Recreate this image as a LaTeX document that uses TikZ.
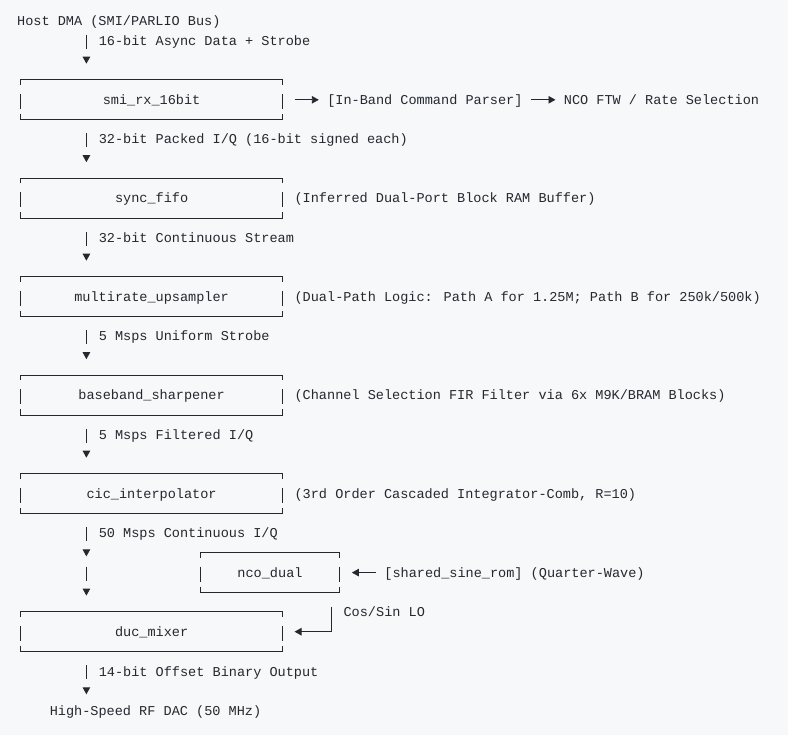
\documentclass[tikz,border=0pt]{standalone}
\usepackage{fontspec}
\newfontfamily\asciimono{Liberation Mono}
\usetikzlibrary{arrows.meta, calc}
\definecolor{ink}{HTML}{24292F}
\definecolor{paper}{HTML}{F6F8FA}

% box drawn the way the box-drawing characters come out: corner ticks and short side bars
\newcommand{\asciibox}[1]{%
  \draw[frame] ($(#1.north west)+(0,5)$) -- (#1.north west) -- (#1.north east) -- ($(#1.north east)+(0,5)$);
  \draw[frame] ($(#1.south west)+(0,-6)$) -- (#1.south west) -- (#1.south east) -- ($(#1.south east)+(0,-6)$);
  \draw[frame] ($(#1.north west)+(0,14)$) -- ($(#1.south west)+(0,-11)$);
  \draw[frame] ($(#1.north east)+(0,14)$) -- ($(#1.south east)+(0,-11)$);
}

\begin{document}
\begin{tikzpicture}[x=1pt, y=-1pt, ink, font=\asciimono\fontsize{13.55}{16}\selectfont,
  txt/.style={anchor=west, inner sep=0pt, text height=9pt, text depth=0pt},
  block/.style={minimum width=261.1pt, minimum height=39.4pt, inner sep=0pt, text height=9pt, text depth=0pt},
  smallblock/.style={block, minimum width=138.7pt},
  frame/.style={draw=ink, line width=0.9pt},
  link/.style={draw=ink, line width=0.9pt, dash pattern=on 14pt off 100pt, -{Triangle[length=7pt, width=7.5pt]}},
  feed/.style={draw=ink, line width=0.9pt, -{Triangle[length=7pt, width=7.5pt]}}
]
  \useasboundingbox[fill=paper] (0,0) rectangle (788,735);
  \coordinate (spine) at (86.4,0);

  \node[txt]   (host)  at (17,21.5)     {Host DMA (SMI/PARLIO Bus)};
  \node[block] (smi)   at (151.6,99.8)  {smi\_rx\_16bit};
  \node[block] (fifo)  at (151.6,198.3) {sync\_fifo};
  \node[block] (ups)   at (151.6,296.8) {multirate\_upsampler};
  \node[block] (sharp) at (151.6,395.3) {baseband\_sharpener};
  \node[block] (cic)   at (151.6,493.8) {cic\_interpolator};
  \node[smallblock] (nco) at (270,572.6) {nco\_dual};
  \node[block] (duc)   at (151.6,631.7) {duc\_mixer};
  \node[txt]   (dac)   at (49.6,711)    {High-Speed RF DAC (50 MHz)};
  \coordinate (relay) at (86.4,552.9);

  \asciibox{smi}
  \asciibox{fifo}
  \asciibox{ups}
  \asciibox{sharp}
  \asciibox{cic}
  \asciibox{nco}
  \asciibox{duc}

  % side notes
  \node[txt] (parser) at (327.1,99.8)  {[In-Band Command Parser]};
  \node[txt] (ftw)    at (563.7,99.8)  {NCO FTW / Rate Selection};
  \node[txt] (bram)   at (294.4,198.3) {(Inferred Dual-Port Block RAM Buffer)};
  \node[txt] (paths)  at (294.4,296.8) {(Dual-Path Logic: Path A for 1.25M; Path B for 250k/500k)};
  \node[txt] (fir)    at (294.4,395.3) {(Channel Selection FIR Filter via 6x M9K/BRAM Blocks)};
  \node[txt] (comb)   at (294.4,493.8) {(3rd Order Cascaded Integrator-Comb, R=10)};
  \node[txt] (rom)    at (384.2,572.6) {[shared\_sine\_rom] (Quarter-Wave)};

  % main chain
  \draw[link] ($(spine |- host)+(0,13.2)$) -- ($(spine |- smi.north)+(0,-16.2)$);
  \node[txt] at (98.6,40.7) {16-bit Async Data + Strobe};
  \draw[link] ($(spine |- smi.south)+(0,13.7)$) -- ($(spine |- fifo.north)+(0,-16.2)$);
  \node[txt] at (98.6,139.2) {32-bit Packed I/Q (16-bit signed each)};
  \draw[link] ($(spine |- fifo.south)+(0,13.7)$) -- ($(spine |- ups.north)+(0,-16.2)$);
  \node[txt] at (98.6,237.7) {32-bit Continuous Stream};
  \draw[link] ($(spine |- ups.south)+(0,13.7)$) -- ($(spine |- sharp.north)+(0,-16.2)$);
  \node[txt] at (98.6,336.2) {5 Msps Uniform Strobe};
  \draw[link] ($(spine |- sharp.south)+(0,13.7)$) -- ($(spine |- cic.north)+(0,-16.2)$);
  \node[txt] at (98.6,434.7) {5 Msps Filtered I/Q};
  \draw[link] ($(spine |- cic.south)+(0,13.7)$) -- ($(relay)+(0,3.5)$);
  \node[txt] at (98.6,533.2) {50 Msps Continuous I/Q};
  \draw[link] ($(relay)+(0,13.7)$) -- ($(spine |- duc.north)+(0,-16.2)$);
  \draw[link] ($(spine |- duc.south)+(0,13.7)$) -- ($(spine |- dac)+(0,-16.7)$);
  \node[txt] at (98.6,671.5) {14-bit Offset Binary Output};

  % side arrows
  \draw[feed, shorten <=12.2pt, shorten >=8.3pt] (smi.east) -- (parser.west);
  \draw[feed, shorten <=8.2pt, shorten >=8.2pt] (parser.east) -- (ftw.west);
  \draw[feed, shorten <=8.2pt, shorten >=12.3pt] (rom.west) -- (nco.east);
  \draw[feed, shorten >=12.2pt] ($(nco.south east)+(-8.1,14)$) |- (duc.east);
  \node[txt] at (343.4,612.4) {Cos/Sin LO};
\end{tikzpicture}
\end{document}
